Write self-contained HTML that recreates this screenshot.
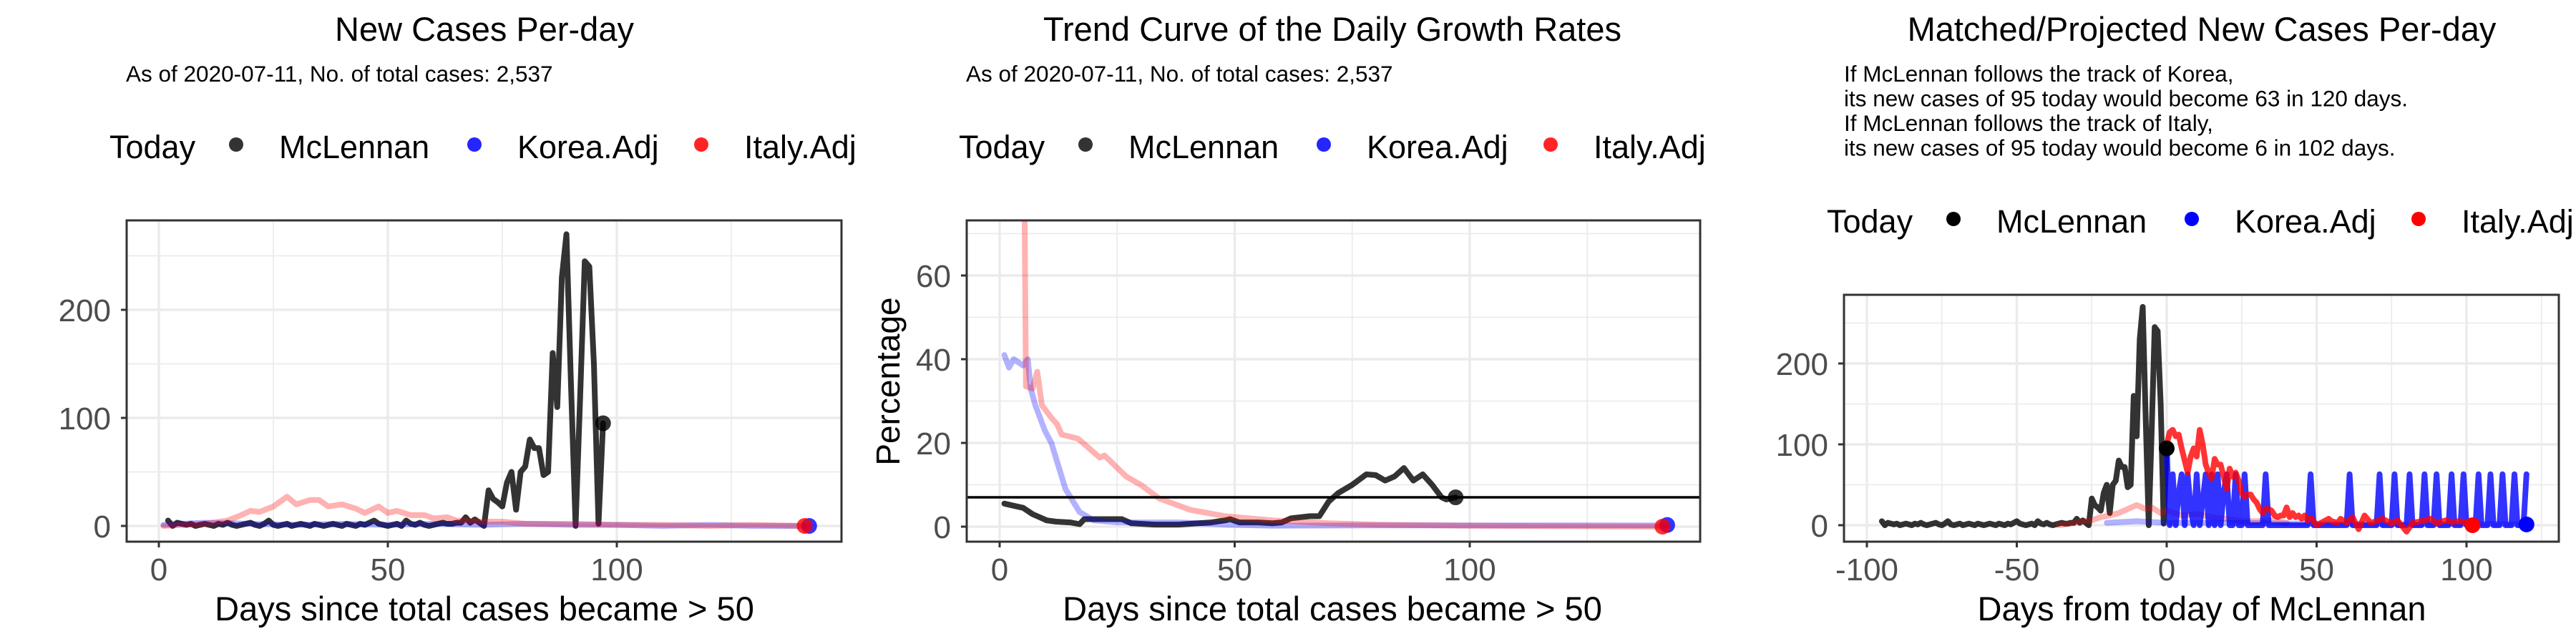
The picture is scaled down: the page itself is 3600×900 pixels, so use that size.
<!DOCTYPE html>
<html><head><meta charset="utf-8"><style>
html,body{margin:0;padding:0;background:#fff;}
svg{display:block;font-family:"Liberation Sans",Arial,sans-serif;}
</style></head><body>
<svg id="chart" width="3600" height="900" viewBox="0 0 3600 900" xmlns="http://www.w3.org/2000/svg">
<rect width="3600" height="900" fill="#fff"/>
<g id="p1"></g>
<g id="p2"></g>
<g id="p3"></g>
</svg>
<script>
// ---------- data ----------
const mcDays = [2,3,4,5,6,7,8,9,10,11,12,13,14,15,16,17,18,19,20,21,22,23,24,25,26,27,28,29,30,31,32,33,34,35,36,37,38,39,40,41,42,43,44,45,46,47,48,49,50,51,52,53,54,55,56,57,58,59,60,61,62,63,64,65,66,67,68,69,70,71,72,73,74,75,76,77,78,79,80,81,82,83,84,85,86,87,88,89,90,91,92,93,94,95,96,97];
const mcCases = [5,0,3,2,1,2,0,1,2,1,0,2,1,3,1,0,1,2,3,1,0,2,5,1,0,1,2,0,1,2,1,0,2,1,0,1,2,1,0,2,1,0,2,1,3,5,2,1,0,1,2,0,5,2,1,3,1,0,1,2,3,2,2,3,3,8,3,6,3,0,33,25,22,18,40,50,15,50,55,80,72,72,47,50,160,110,230,270,130,0,120,245,240,150,2,95];
const koCaseDays = [1,5,10,20,30,40,50,60,70,80,90,100,110,120,130,142];
const koCases = [1,2,3,2,1,2,1,2,1,2,1,1,0,1,0,0];
const itCaseDays = [1,10,15,18,20,22,25,28,30,33,35,37,40,43,45,48,50,52,55,58,60,63,65,70,75,80,90,100,110,120,130,141];
const itCases = [0,2,5,10,14,13,18,27,20,24,24,18,20,16,12,18,12,14,10,10,7,8,5,4,4,2,2,1,1,0,1,0];

const mcGrowDays = [1,3,5,7,8,10,12,15,17,18,22,26,28,33,38,45,48,49,51,55,58,60,62,66,68,70,72,75,78,80,82,84,86,88,90,92,94,95,97];
const mcGrowth = [5.5,5,4.5,3,2.5,1.5,1.2,1,0.6,1.8,1.8,1.8,0.8,0.5,0.5,1,1.5,1.8,1,1,0.8,1,2,2.5,2.5,6,8,10,12.5,12.3,11,12,14,11,12.5,10,7,6.5,7];
const koGrowDays = [1,2,3,5,6,6.6,7.6,9.6,11,14,17,20,25,38,48,58,80,100,142];
const koGrowth = [41,38,40,38.5,40,33,29,23,20,9,3.5,1.5,1,1,0.5,0.2,0.3,0.3,0.3];
const itGrowDays = [1,5,5.6,7,8,9,11,12.2,13.2,16.7,21.3,22.3,26.9,30,34,40.6,48,58,70,80,100,120,141];
const itGrowth = [120,120,33.5,33,37,29,26,24.5,22,21,16.5,17,12,10,6.7,4,2.5,1.5,0.8,0.5,0.2,0.1,0];
const refRate = 7;

const itProjDays = [0,1,2,3,4,5,6,7,8,9,10,11,12,13,14,15,16,17,18,19,20,21,22,23,24,25,26,27,28,29,30,31,32,33,34,35,36,37,38,39,40,41,42,43,44,45,46,47,48,49,50,52,54,55,57,58,60,62,64,66,68,70,72,75,77,80,82,85,88,90,93,95,98,100,102];
const itProj = [100,115,118,110,112,95,80,65,85,95,85,118,100,75,65,58,82,75,75,60,45,70,60,65,55,40,35,38,38,32,28,20,15,20,20,18,12,10,12,12,22,10,15,10,12,8,12,6,9,5,0,4,8,5,3,8,3,10,-5,12,3,5,8,2,6,-8,3,5,8,2,6,4,5,3,6];
const koProj = [95,0,63,0,40,63,0,63,20,0,63,0,30,63,0,63,0,63,0,40,63,0,0,63,0,0,63,0,0,0,0,0,0,63,0,0,0,0,0,0,0,0,0,0,0,0,0,0,63,0,0,0,0,0,0,0,0,0,0,0,0,63,0,0,0,0,0,0,0,0,0,63,0,0,0,0,63,0,0,0,0,63,0,0,0,0,63,0,0,0,63,0,0,0,0,63,0,0,0,63,0,0,0,0,63,0,0,0,63,0,0,0,63,0,0,0,63,0,0,0,63];
const itHistDays = [-36,-32,-28,-25,-22,-19,-16,-13,-10,-7,-5,-2,0,5,10,15,20,25,30,35,40];
const itHist = [0,2,5,6,10,12,15,20,25,20,22,15,18,12,14,10,8,5,5,6,3];
const koHistDays = [-20,-10,0,20,40,60,80,100,120];
const koHist = [3,5,3,3,2,2,1,2,1];

const x1Ticks = [0,50,100], x1Minor=[25,75,125];
const y1Ticks = [0,100,200], y1Minor=[50,150,250];
const y2Ticks = [0,20,40,60], y2Minor=[10,30,50,70];
const x3Ticks = [-100,-50,0,50,100], x3Minor=[-75,-25,25,75,125];

const NS='http://www.w3.org/2000/svg';
function el(parent, tag, attrs, text){
  const e=document.createElementNS(NS,tag);
  for(const k in attrs) e.setAttribute(k,attrs[k]);
  if(text!==undefined) e.textContent=text;
  parent.appendChild(e); return e;
}
function scale(d0,d1,r0,r1){return v=>r0+(v-d0)*(r1-r0)/(d1-d0);}

function panel(g, cfg){
  const {L,R,T,B,xs,ys}=cfg;
  cfg.xMinor.forEach(v=>{const x=xs(v); if(x>L&&x<R){const l=el(g,'line',{x1:x,x2:x,y1:T,y2:B,stroke:'#ebebeb','stroke-width':1.7});
    
    }});
  cfg.yMinor.forEach(v=>{const y=ys(v); if(y>T&&y<B){const l=el(g,'line',{x1:L,x2:R,y1:y,y2:y,stroke:'#ebebeb','stroke-width':1.7});
    
    }});
  cfg.xTicks.forEach(v=>{const x=xs(v);
    const l=el(g,'line',{x1:x,x2:x,y1:T,y2:B,stroke:'#ebebeb','stroke-width':3.4});
    
    
    const t=el(g,'line',{x1:x,x2:x,y1:B,y2:B+8,stroke:'#333','stroke-width':3});
    
    
    const tx=el(g,'text',{x:x,y:B+54,'text-anchor':'middle','font-size':44,fill:'#4d4d4d'},String(v));
    
    
  });
  cfg.yTicks.forEach(v=>{const y=ys(v);
    const l=el(g,'line',{x1:L,x2:R,y1:y,y2:y,stroke:'#ebebeb','stroke-width':3.4});
    
    
    const t=el(g,'line',{x1:L-8,x2:L,y1:y,y2:y,stroke:'#333','stroke-width':3});
    
    
    const tx=el(g,'text',{x:L-22,y:y+16,'text-anchor':'end','font-size':44,fill:'#4d4d4d'},String(v));
    
    
  });
  const cp='clip'+cfg.id;
  const defs=el(g,'defs',{});
  const cr=el(defs,'clipPath',{id:cp}); el(cr,'rect',{x:L,y:T,width:R-L,height:B-T});
  const plot=el(g,'g',{'clip-path':'url(#'+cp+')'});
  
  
  cfg.draw(plot);
  const box=el(g,'rect',{x:L,y:T,width:R-L,height:B-T,fill:'none',stroke:'#333','stroke-width':3});
  
  
  const ti=el(g,'text',{x:cfg.titleX,y:57,'text-anchor':'middle','font-size':47,fill:'#000'},cfg.title);
  
  
  cfg.sub.forEach((s,i)=>{const st=el(g,'text',{x:cfg.subX,y:114+i*34.5,'font-size':31.5,fill:'#000'},s);
    
    });
  const xt=el(g,'text',{x:cfg.titleX,y:867,'text-anchor':'middle','font-size':47,fill:'#000'},cfg.xTitle);
  
  
  const lg=el(g,'g',{});
  
  
  const ly=cfg.legY, lx=cfg.legX;
  const lt=el(lg,'text',{x:lx,y:ly+17,'font-size':45,fill:'#000'},'Today');
  
  
  const items=[['McLennan',cfg.legCols[0],177],['Korea.Adj',cfg.legCols[1],510],['Italy.Adj',cfg.legCols[2],827]];
  items.forEach(([n,c,dx])=>{
    const d=el(lg,'circle',{cx:lx+dx,cy:ly-2,r:10,fill:c});
    
    
    const t=el(lg,'text',{x:lx+dx+60,y:ly+17,'font-size':45,fill:'#000'},n);
    
    
  });
}
function line(g,xs,ys,dx,dy,color,op,name,w){
  const p=el(g,'polyline',{points:dx.map((d,i)=>xs(d).toFixed(1)+','+ys(dy[i]).toFixed(1)).join(' '),fill:'none',stroke:color,'stroke-opacity':op,'stroke-width':w||8,'stroke-linejoin':'round','stroke-linecap':'round'});
  
  
}
function dot(g,x,y,color,op,name){
  const c=el(g,'circle',{cx:x,cy:y,r:11,fill:color,'fill-opacity':op});
  
  
}
const last=a=>a[a.length-1];

// Panel 1
{
  const xs=scale(0,100,222,862), ys=scale(0,100,735,584);
  panel(document.getElementById('p1'),{id:1,L:177,R:1176,T:308,B:757,xs,ys,xTicks:x1Ticks,xMinor:x1Minor,yTicks:y1Ticks,yMinor:y1Minor,
    title:'New Cases Per-day',titleX:677,subX:176,sub:['As of 2020-07-11, No. of total cases: 2,537'],xTitle:'Days since total cases became > 50',
    legX:153,legY:204,legCols:['#333','#2525ff','#ff2525'],
    draw:g=>{
      line(g,xs,ys,mcDays,mcCases,'#000',0.8,'mclennan-line');
      line(g,xs,ys,koCaseDays,koCases,'#0000ff',0.3,'korea-line');
      line(g,xs,ys,itCaseDays,itCases,'#ff0000',0.3,'italy-line');
      dot(g,xs(last(mcDays)),ys(last(mcCases)),'#000',0.8,'mclennan-today-dot');
      dot(g,xs(142),ys(0),'#0000ff',0.8,'korea-end-dot');
      dot(g,xs(141),ys(0),'#ff0000',0.8,'italy-end-dot');
    }});
}
// Panel 2
{
  const xs=scale(0,100,1397,2054), ys=scale(0,60,736,385);
  const g2=document.getElementById('p2');
  panel(g2,{id:2,L:1351,R:2376,T:308,B:757,xs,ys,xTicks:x1Ticks,xMinor:x1Minor,yTicks:y2Ticks,yMinor:y2Minor,
    title:'Trend Curve of the Daily Growth Rates',titleX:1862,subX:1350,sub:['As of 2020-07-11, No. of total cases: 2,537'],xTitle:'Days since total cases became > 50',
    legX:1340,legY:204,legCols:['#333','#2525ff','#ff2525'],
    draw:g=>{
      line(g,xs,ys,mcGrowDays,mcGrowth,'#000',0.8,'mclennan-growth-line');
      line(g,xs,ys,koGrowDays,koGrowth,'#0000ff',0.3,'korea-growth-line');
      line(g,xs,ys,itGrowDays,itGrowth,'#ff0000',0.3,'italy-growth-line');
      const h=el(g,'line',{x1:1351,x2:2376,y1:ys(refRate),y2:ys(refRate),stroke:'#000','stroke-width':3.5});
      
      
      dot(g,xs(last(mcGrowDays)),ys(last(mcGrowth)),'#000',0.8,'mclennan-today-dot');
      dot(g,xs(142),ys(0.4),'#0000ff',0.8,'korea-end-dot');
      dot(g,xs(141),ys(0),'#ff0000',0.8,'italy-end-dot');
    }});
  const yt=el(g2,'text',{x:0,y:0,transform:'translate(1257,533) rotate(-90)','text-anchor':'middle','font-size':46,fill:'#000'},'Percentage');
  
  
}
// Panel 3
{
  const xs=scale(0,100,3028,3447), ys=scale(0,100,734,621);
  const mcShift=mcDays.map(d=>d-last(mcDays));
  const koProjDays=koProj.map((v,i)=>i);
  panel(document.getElementById('p3'),{id:3,L:2577,R:3576,T:412,B:757,xs,ys,xTicks:x3Ticks,xMinor:x3Minor,yTicks:y1Ticks,yMinor:y1Minor,
    title:'Matched/Projected New Cases Per-day',titleX:3077,subX:2577,
    sub:['If McLennan follows the track of Korea,','its new cases of 95 today would become 63 in 120 days.','If McLennan follows the track of Italy,','its new cases of 95 today would become 6 in 102 days.'],
    xTitle:'Days from today of McLennan',legX:2553,legY:308,legCols:['#000','#0000ff','#ff0000'],
    draw:g=>{
      line(g,xs,ys,mcShift,mcCases,'#000',0.8,'mclennan-line');
      line(g,xs,ys,itHistDays,itHist,'#ff0000',0.3,'italy-matched-line');
      line(g,xs,ys,koHistDays,koHist,'#0000ff',0.3,'korea-matched-line');
      line(g,xs,ys,koProjDays,koProj,'#0000ff',0.8,'korea-projected-line');
      line(g,xs,ys,itProjDays,itProj,'#ff0000',0.8,'italy-projected-line');
      dot(g,xs(0),ys(95),'#000',1,'mclennan-today-dot');
      dot(g,xs(last(itProjDays)),ys(0),'#ff0000',1,'italy-projected-end-dot');
      dot(g,xs(koProj.length-1),ys(1),'#0000ff',1,'korea-projected-end-dot');
    }});
}
</script>
</body></html>
